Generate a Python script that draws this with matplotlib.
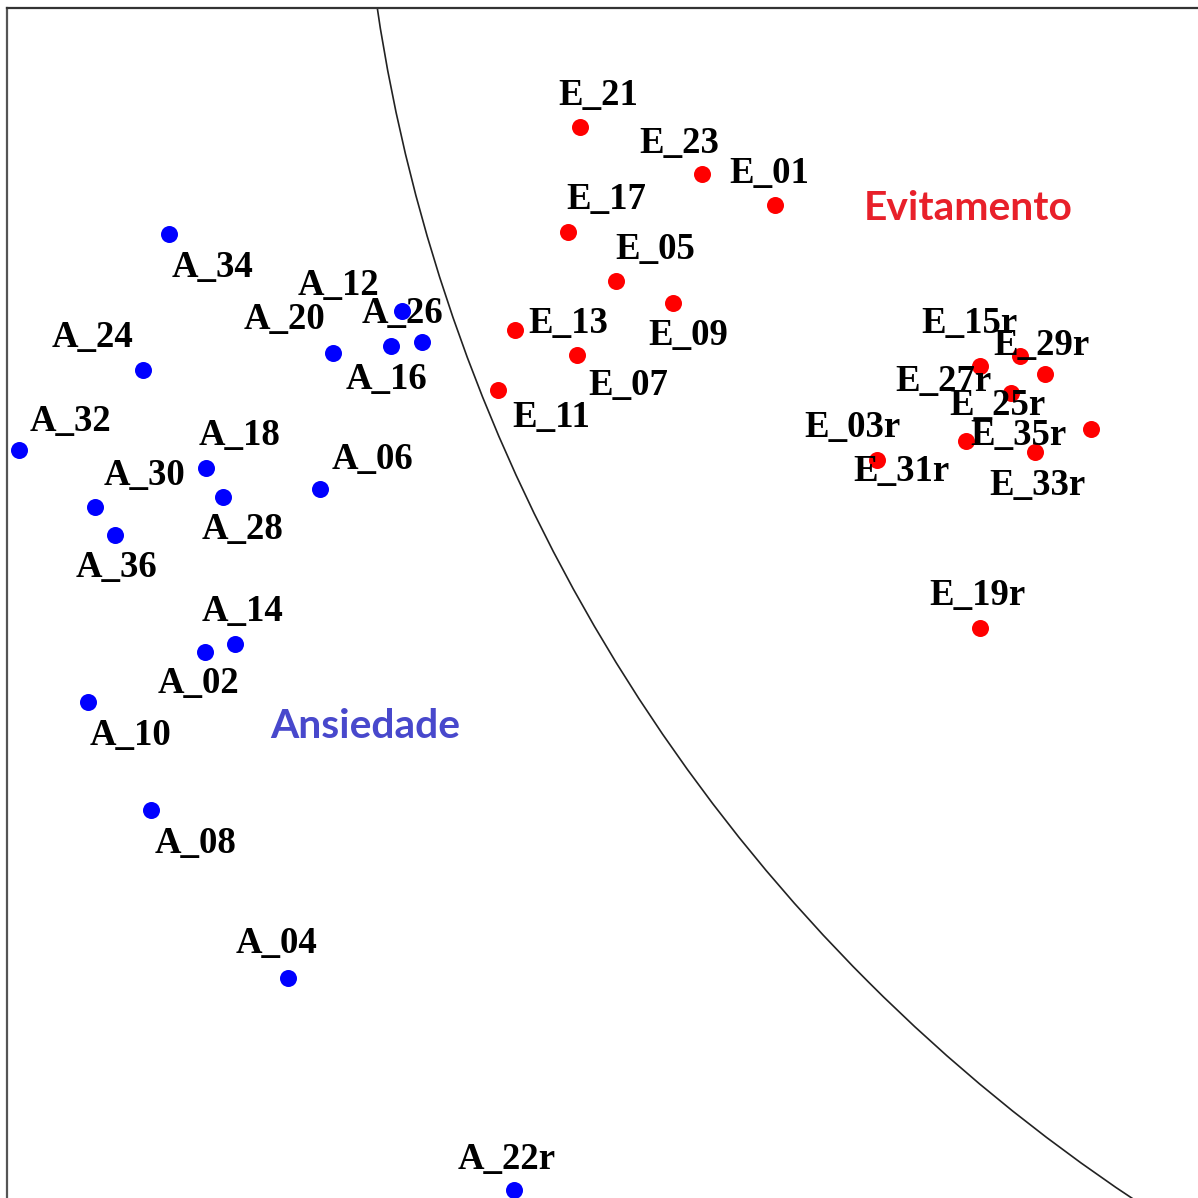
import numpy as np
import matplotlib
matplotlib.use("Agg")
import matplotlib.pyplot as plt
from matplotlib.patches import Circle

# coordenadas (unidades = pixels da imagem, y para baixo)
a_names = ['A_34', 'A_24', 'A_20', 'A_12', 'A_26', 'A_16', 'A_32', 'A_18', 'A_30',
           'A_28', 'A_36', 'A_06', 'A_14', 'A_02', 'A_10', 'A_08', 'A_04', 'A_22r']
a_x = [169, 143, 333, 402, 422, 391, 19, 206, 95, 223, 115, 320, 235, 205, 88, 151, 288, 514]
a_y = [234, 370, 353, 311, 342, 346, 450, 468, 507, 497, 535, 489, 644, 652, 702, 810, 978, 1190]

e_names = ['E_21', 'E_23', 'E_01', 'E_17', 'E_05', 'E_09', 'E_13', 'E_07', 'E_11',
           'E_15r', 'E_29r', 'E_27r', 'E_25r', 'E_35r', 'E_31r', 'E_33r', 'E_03r', 'E_19r']
e_x = [580, 702, 775, 568, 616, 673, 515, 577, 498, 980, 1020, 1011, 1045, 1091, 966, 1035, 877, 980]
e_y = [127, 174, 205, 232, 281, 303, 330, 355, 390, 366, 356, 393, 374, 429, 441, 452, 460, 628]

# posicao dos rotulos (centro do texto)
a_lab = [(213, 264), (92, 335), (284, 317), (339, 283), (403, 310), (386, 376), (71, 418),
         (240, 432), (144, 472), (243, 527), (117, 564), (372, 457), (242, 609), (198, 681),
         (130, 732), (196, 840), (276, 941), (507, 1156)]
e_lab = [(598, 92), (679, 140), (769, 170), (606, 197), (655, 246), (688, 333), (568, 321),
         (628, 382), (551, 415), (969, 321), (1041, 342), (943, 378), (997, 403), (1018, 432),
         (901, 468), (1037, 482), (852, 425), (977, 593)]

# circulo de separacao
circ_c = (2100, -250)
circ_r = 1742

W = 1198
fig = plt.figure(figsize=(W / 100, W / 100), dpi=100)
ax = fig.add_axes([7 / W, 0, (W - 7) / W, (W - 8) / W])
ax.set_xlim(7, W)
ax.set_ylim(W, 8)

for s in ['right', 'bottom']:
    ax.spines[s].set_visible(False)
ax.spines['left'].set_color('#555555')
ax.spines['top'].set_color('#333333')
ax.spines['left'].set_linewidth(1.6)
ax.spines['top'].set_linewidth(1.6)
ax.set_xticks([])
ax.set_yticks([])

ax.add_patch(Circle(circ_c, circ_r, fill=False, edgecolor='#222222', linewidth=1.2))

ax.scatter(a_x, a_y, s=150, color='#0000ff', zorder=3, linewidths=0)
ax.scatter(e_x, e_y, s=150, color='#ff0000', zorder=3, linewidths=0)

dy = 3  # ajuste vertical do texto
fnt = dict(family='Liberation Serif', weight='bold', fontsize=26.5, color='black',
           ha='center', va='center', zorder=4)
for nm, (lx, ly) in zip(a_names, a_lab):
    ax.text(lx, ly + dy, nm, **fnt)
for nm, (lx, ly) in zip(e_names, e_lab):
    ax.text(lx, ly + dy, nm, **fnt)

ax.text(968, 208, 'Evitamento', family='Lato', weight='bold', fontsize=29.3,
        color='#e8202a', ha='center', va='center')
ax.text(365, 727, 'Ansiedade', family='Lato', weight='bold', fontsize=29.3,
        color='#4848cc', ha='center', va='center')

fig.savefig('out.png', dpi=100)
